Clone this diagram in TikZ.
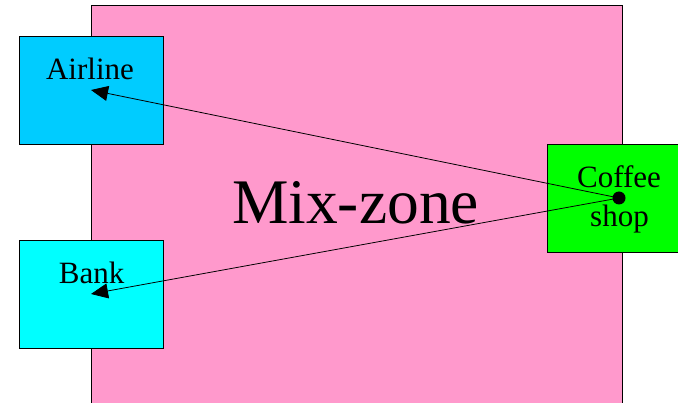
\documentclass[tikz,border=0pt]{standalone}
\usepackage{fontspec}
\setmainfont{Liberation Serif}
\usetikzlibrary{arrows.meta}
\definecolor{zonepink}{HTML}{FF99CC}
\definecolor{airblue}{HTML}{00CCFF}
\definecolor{bankcyan}{HTML}{00FFFF}
\definecolor{shopgreen}{HTML}{00FF00}
\tikzset{
  place/.style={draw=black, line width=0.8pt, minimum width=144pt, minimum height=108pt, inner sep=0pt},
  lbl/.style={anchor=base, inner sep=0pt, font=\fontsize{31}{36}\selectfont},
  conn/.style={line width=0.8pt, -{Triangle[length=17pt,width=15pt]}}
}
\begin{document}
\begin{tikzpicture}[x=1pt,y=1pt]
\useasboundingbox (0,0) rectangle (678,402);
\clip (0,0) rectangle (678,402);
\node[draw=black, line width=0.8pt, fill=zonepink, inner sep=0pt, minimum width=531pt, minimum height=420pt, anchor=north west] (zone) at (91,397) {};
\node[lbl, font=\fontsize{63.5}{70}\selectfont] (zonetxt) at (355.5,178.7) {Mix-zone};
\node[place, fill=airblue] (airline) at (91,312) {};
\node[place, fill=bankcyan] (bank) at (91,108) {};
\node[place, fill=shopgreen] (shop) at (619,204) {};
\node[lbl] (airlinetxt) at (90,322) {Airline};
\node[lbl] (banktxt) at (91.7,118.7) {Bank};
\node[lbl] (coffeetxt) at (619,214) {Coffee};
\node[lbl] (shoptxt) at (619.5,175.3) {shop};
\fill (shop.center) circle (6.5pt);
\draw[conn] (shop.center) -- (airline.center);
\draw[conn] (shop.center) -- (bank.center);
\end{tikzpicture}
\end{document}
